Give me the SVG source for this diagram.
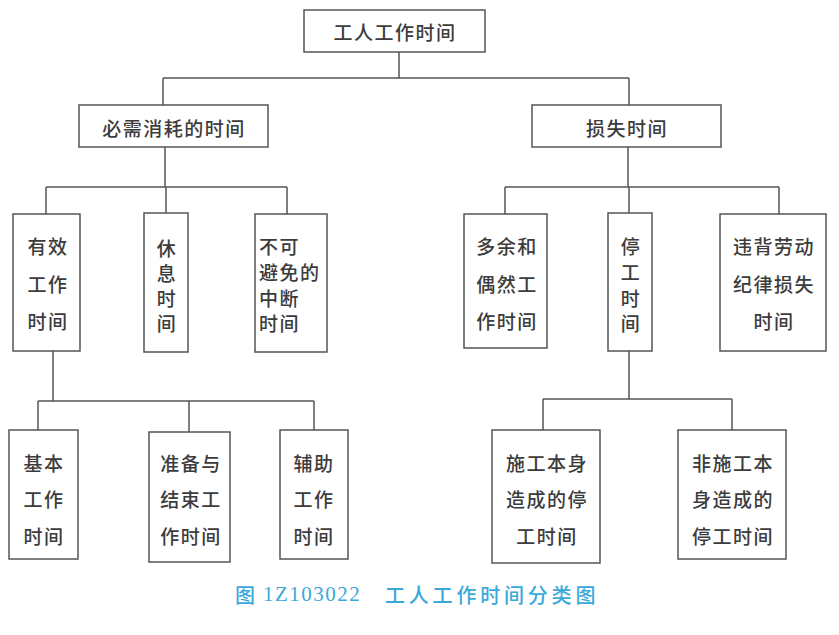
<svg xmlns="http://www.w3.org/2000/svg" width="839" height="635" viewBox="0 0 839 635">
<style>
.box{fill:#fff;stroke:#555;stroke-width:1.5}
.ln{fill:none;stroke:#555;stroke-width:1.5}
text{font-family:"Noto Sans CJK SC","Liberation Serif",sans-serif;font-size:19px;font-weight:500;fill:#3c3c3c;letter-spacing:1.5px;dominant-baseline:central}
.c{text-anchor:middle}
.cap{fill:#3aa9d9;font-size:20px;letter-spacing:1px}
.num{font-family:"Liberation Serif",serif;fill:#3aa9d9;font-size:21px;font-weight:normal}
</style>
<rect width="839" height="635" fill="#fff"/>
<g id="connectors">
<path class="ln" d="M399,52V78M163,78H629M163,78V105M629,78V105"/>
<path class="ln" d="M165,147V187M46,187H287M46,187V214M166,187V213M287,187V214"/>
<path class="ln" d="M628,147V187M505,187H779M505,187V214M629,187V213M779,187V214"/>
<path class="ln" d="M53,351V401M38,401H314M38,401V430M189,401V432M314,401V430"/>
<path class="ln" d="M629,351V399M543,399H732M543,399V430M732,399V430"/>
</g>
<g id="n-root"><rect class="box" x="304" y="10" width="181" height="42"/><text class="c" x="395" y="31">工人工作时间</text></g>
<g id="n-need"><rect class="box" x="79" y="105" width="189" height="42"/><text class="c" x="174" y="127">必需消耗的时间</text></g>
<g id="n-loss"><rect class="box" x="532" y="105" width="189" height="42"/><text class="c" x="627" y="127">损失时间</text></g>
<g id="n-effective"><rect class="box" x="13" y="214" width="67" height="137"/>
<text class="c" x="48" y="245">有效</text><text class="c" x="48" y="283">工作</text><text class="c" x="48" y="320">时间</text></g>
<g id="n-rest"><rect class="box" x="144" y="213" width="44" height="139"/>
<text class="c" x="167" y="247">休</text><text class="c" x="167" y="272">息</text><text class="c" x="167" y="297">时</text><text class="c" x="167" y="322">间</text></g>
<g id="n-interrupt"><rect class="box" x="255" y="214" width="72" height="138"/>
<text x="259" y="245">不可</text><text x="259" y="271">避免的</text><text x="259" y="297">中断</text><text x="259" y="322">时间</text></g>
<g id="n-extra"><rect class="box" x="464" y="214" width="83" height="134"/>
<text class="c" x="507" y="245">多余和</text><text class="c" x="507" y="283">偶然工</text><text class="c" x="507" y="320">作时间</text></g>
<g id="n-stop"><rect class="box" x="608" y="213" width="44" height="138"/>
<text class="c" x="631" y="245">停</text><text class="c" x="631" y="271">工</text><text class="c" x="631" y="297">时</text><text class="c" x="631" y="322">间</text></g>
<g id="n-discipline"><rect class="box" x="720" y="214" width="106" height="137"/>
<text class="c" x="774" y="245">违背劳动</text><text class="c" x="774" y="283">纪律损失</text><text class="c" x="774" y="320">时间</text></g>
<g id="n-basic"><rect class="box" x="9" y="430" width="69" height="129"/>
<text class="c" x="44" y="462">基本</text><text class="c" x="44" y="498">工作</text><text class="c" x="44" y="535">时间</text></g>
<g id="n-prep"><rect class="box" x="149" y="432" width="81" height="130"/>
<text class="c" x="191" y="462">准备与</text><text class="c" x="191" y="498">结束工</text><text class="c" x="191" y="535">作时间</text></g>
<g id="n-aux"><rect class="box" x="280" y="430" width="68" height="129"/>
<text class="c" x="314" y="462">辅助</text><text class="c" x="314" y="498">工作</text><text class="c" x="314" y="535">时间</text></g>
<g id="n-self"><rect class="box" x="492" y="430" width="108" height="133"/>
<text class="c" x="547" y="462">施工本身</text><text class="c" x="547" y="498">造成的停</text><text class="c" x="547" y="535">工时间</text></g>
<g id="n-nonself"><rect class="box" x="678" y="430" width="108" height="129"/>
<text class="c" x="733" y="462">非施工本</text><text class="c" x="733" y="498">身造成的</text><text class="c" x="733" y="535">停工时间</text></g>
<g id="caption">
<text class="cap" x="235" y="594">图</text>
<text class="num" x="263" y="594">1Z103022</text>
<text class="cap" x="385" y="594" style="letter-spacing:3.8px">工人工作时间分类图</text>
</g>
</svg>
